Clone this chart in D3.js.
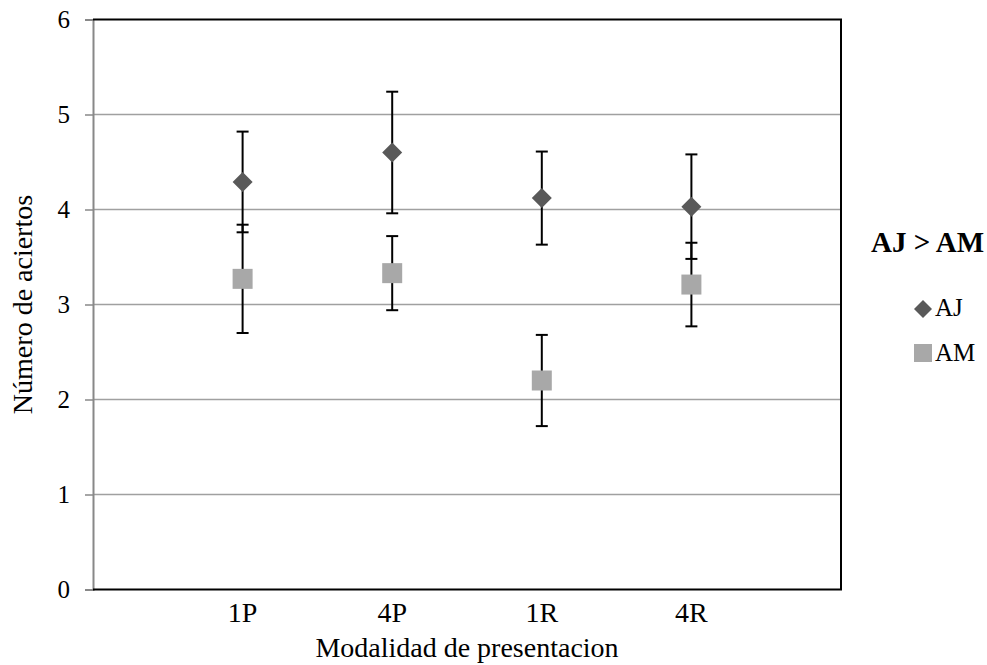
<!DOCTYPE html>
<html><head><meta charset="utf-8">
<script src="https://cdnjs.cloudflare.com/ajax/libs/d3/7.8.5/d3.min.js"></script>
<style>body{margin:0;background:#fff}text{font-family:"Liberation Serif","Times New Roman",serif}</style>
</head><body><svg id="c" width="987" height="665"></svg>
<script>
const categories = ["1P","4P","1R","4R"];
const ajValues = [4.29, 4.60, 4.12, 4.03];
const ajErrors = [0.53, 0.64, 0.49, 0.55];
const amValues = [3.27, 3.33, 2.20, 3.21];
const amErrors = [0.57, 0.39, 0.48, 0.44];
const yTicks = [0,1,2,3,4,5,6];
const legendTitle = "AJ > AM";
const seriesNames = ["AJ","AM"];

const svg = d3.select("#c");
const L=93, R=841, T=19.5, B=589.5;
const x = d3.scaleLinear().domain([0,5]).range([L,R]);
const y = d3.scaleLinear().domain([0,6]).range([B,T]);

// gridlines
svg.append("g").selectAll("line").data(yTicks.filter(d=>d>0&&d<6)).join("line")
  .attr("x1",L).attr("x2",R).attr("y1",d=>y(d)).attr("y2",d=>y(d))
  .attr("stroke","#a0a0a0").attr("stroke-width",1.5);

// y axis
const yAxis = svg.append("g").attr("transform",`translate(${L},0)`)
  .call(d3.axisLeft(y).tickValues(yTicks).tickSize(8).tickPadding(15).tickFormat(d3.format("d")));
yAxis.attr("font-family",null).attr("font-size",null);
yAxis.select(".domain").attr("stroke","#888").attr("stroke-width",2);
yAxis.selectAll(".tick line").attr("stroke","#888").attr("stroke-width",1.5);
yAxis.selectAll(".tick text").style("font-size","25px").style("font-family","'Liberation Serif',serif").attr("fill","#000");

// border top/right/bottom
svg.append("path").attr("d",`M${L},${T}H${R}V${B}H${L}`).attr("fill","none").attr("stroke","#000").attr("stroke-width",2);

// x labels
svg.append("g").selectAll("text").data(categories).join("text")
  .attr("x",(d,i)=>x(i+1)).attr("y",622).attr("text-anchor","middle").attr("font-size",28).text(d=>d);

// axis titles
svg.append("text").attr("x",(L+R)/2).attr("y",657).attr("text-anchor","middle").attr("font-size",28).text("Modalidad de presentacion");
svg.append("text").attr("transform",`translate(32,${(T+B)/2}) rotate(-90)`).attr("text-anchor","middle").attr("font-size",28).text("Número de aciertos");

function errorBars(vals, errs){
  const g = svg.append("g").attr("stroke","#000").attr("stroke-width",2);
  vals.forEach((v,i)=>{
    const cx=x(i+1), hi=y(v+errs[i]), lo=y(v-errs[i]);
    g.append("line").attr("x1",cx).attr("x2",cx).attr("y1",hi).attr("y2",lo);
    g.append("line").attr("x1",cx-6).attr("x2",cx+6).attr("y1",hi).attr("y2",hi);
    g.append("line").attr("x1",cx-6).attr("x2",cx+6).attr("y1",lo).attr("y2",lo);
  });
}
errorBars(ajValues, ajErrors);
errorBars(amValues, amErrors);

const diamond = s => `M0,${-s}L${s},0L0,${s}L${-s},0Z`;
svg.append("g").selectAll("path").data(ajValues).join("path")
  .attr("transform",(d,i)=>`translate(${x(i+1)},${y(d)})`).attr("d",diamond(10)).attr("fill","#595959");
svg.append("g").selectAll("rect").data(amValues).join("rect")
  .attr("x",(d,i)=>x(i+1)-10).attr("y",d=>y(d)-10).attr("width",20).attr("height",20).attr("fill","#a8a8a8");

// legend
svg.append("text").attr("x",871).attr("y",252).attr("font-size",29).attr("font-weight","bold").text(legendTitle);
const lg = svg.append("g");
lg.append("path").attr("transform","translate(923,309)").attr("d",diamond(9)).attr("fill","#595959");
lg.append("text").attr("x",935).attr("y",316).attr("font-size",25).text(seriesNames[0]);
lg.append("rect").attr("x",914).attr("y",344).attr("width",18).attr("height",18).attr("fill","#a8a8a8");
lg.append("text").attr("x",935).attr("y",361).attr("font-size",25).text(seriesNames[1]);
</script></body></html>
